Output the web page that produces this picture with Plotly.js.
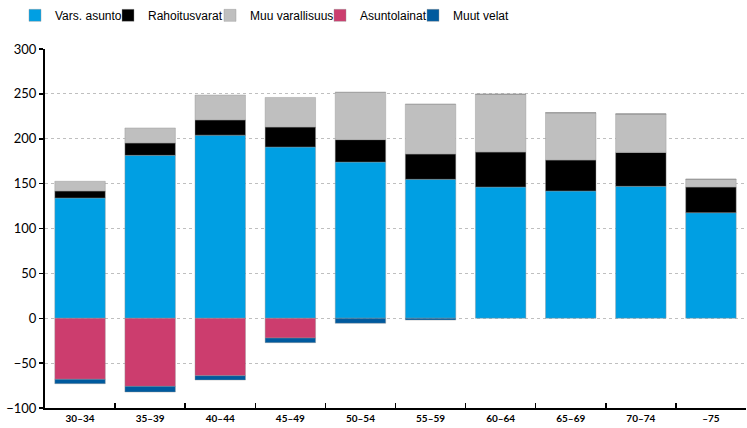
<!DOCTYPE html>
<html>
<head>
<meta charset="utf-8">
<script src="https://cdn.plot.ly/plotly-3.0.1.min.js"></script>
<style>html,body{margin:0;padding:0;background:#fff;}#chart{width:747px;height:428px;}</style>
</head>
<body>
<div id="chart"></div>
<script>
const categories = ["30–34","35–39","40–44","45–49","50–54","55–59","60–64","65–69","70–74","–75"];
const varsAsunto = [134, 181.5, 204, 190.8, 174, 154.8, 146.2, 141.8, 147, 117.6];
const rahoitusvarat = [7.8, 13.8, 17, 22.2, 25, 28.2, 39, 34.5, 37.8, 28.6];
const muuVarallisuus = [10.8, 16.7, 27.7, 33, 52.7, 55.4, 64.3, 52.7, 42.8, 8.6];
const asuntolainat = [-68, -75.9, -64, -22, 0, 0, 0, 0, 0, 0];
const muutVelat = [-4.9, -6.3, -4.8, -5.2, -5.6, -2, 0, 0, 0, 0];
const seriesNames = ["Vars. asunto","Rahoitusvarat","Muu varallisuus","Asuntolainat","Muut velat"];
const seriesColors = ["#009FE3","#000000","#BFBFBF","#CC3D6E","#005A9E"];
const seriesValues = [varsAsunto, rahoitusvarat, muuVarallisuus, asuntolainat, muutVelat];

const legendIds = ["legend","legend2","legend3","legend4","legend5"];
const legendLeftPx = [15, 108, 210, 320, 413];

const traces = seriesValues.map((vals, i) => ({
  type: "bar",
  name: seriesNames[i],
  x: categories,
  y: vals,
  legend: legendIds[i],
  marker: {color: seriesColors[i], line: {color: "rgba(150,150,150,0.6)", width: 0.7}},
  hoverinfo: "x+y+name"
}));

const layout = {
  width: 747, height: 428,
  margin: {l: 45, r: 1, t: 49, b: 20},
  barmode: "relative",
  bargap: 0.28,
  paper_bgcolor: "#fff",
  plot_bgcolor: "#fff",
  font: {family: "Lato, 'Open Sans', sans-serif", color: "#000"},
  showlegend: true,
  xaxis: {
    type: "category",
    showline: true, linecolor: "#000", linewidth: 2,
    tickson: "boundaries", ticks: "inside", ticklen: 5, tickcolor: "#000", tickwidth: 1.5,
    tickfont: {size: 10, weight: "bold", family: "Lato, sans-serif"},
    showgrid: false, fixedrange: true
  },
  yaxis: {
    range: [-100, 300],
    tickvals: [-100, -50, 0, 50, 100, 150, 200, 250, 300],
    showline: true, linecolor: "#000", linewidth: 2,
    ticks: "outside", ticklen: 4, tickcolor: "#000", tickwidth: 1.5,
    tickfont: {size: 13, family: "Lato, sans-serif"},
    showgrid: true, gridcolor: "#BFBFBF", griddash: "dot", gridwidth: 1,
    zeroline: false, fixedrange: true
  }
};

legendIds.forEach((id, i) => {
  layout[id] = {
    orientation: "h",
    xref: "container", yref: "container",
    x: legendLeftPx[i] / 747, xanchor: "left",
    y: 0.998, yanchor: "top",
    bgcolor: "rgba(0,0,0,0)",
    font: {size: 12, family: "'Liberation Sans', Arial, sans-serif"}
  };
});

Plotly.newPlot("chart", traces, layout, {staticPlot: true, displayModeBar: false});
</script>
</body>
</html>
